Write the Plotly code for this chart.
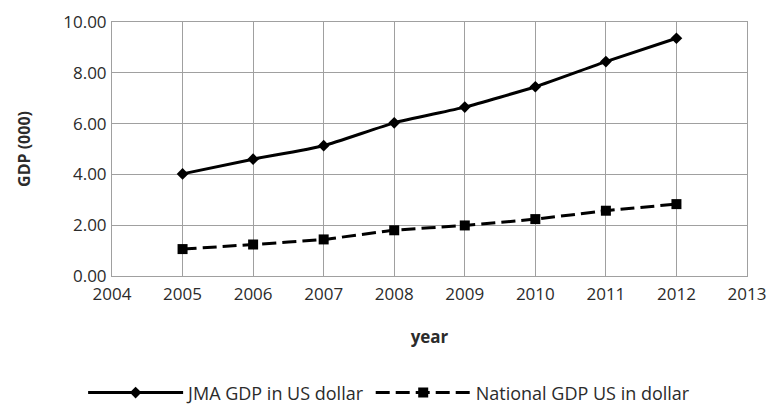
import plotly.graph_objects as go

years = [2005, 2006, 2007, 2008, 2009, 2010, 2011, 2012]
jma_gdp = [4.02, 4.60, 5.13, 6.03, 6.65, 7.45, 8.44, 9.36]
national_gdp = [1.06, 1.24, 1.44, 1.80, 1.99, 2.24, 2.57, 2.83]

x_ticks = list(range(2004, 2014))
y_ticks = [0, 2, 4, 6, 8, 10]

font_family = "Open Sans, DejaVu Sans, sans-serif"
text_color = "#2b2b2b"

fig = go.Figure()
fig.add_trace(go.Scatter(
    x=years, y=jma_gdp, name="JMA GDP in US dollar",
    mode="lines+markers",
    line=dict(color="black", width=3, shape="spline", smoothing=0.5),
    marker=dict(symbol="diamond", size=9, color="black"),
))
fig.add_trace(go.Scatter(
    x=years, y=national_gdp, name="National GDP US in dollar",
    mode="lines+markers",
    line=dict(color="black", width=3, dash="14px,6px", shape="spline", smoothing=0.5),
    marker=dict(symbol="square", size=10, color="black"),
))

axis_common = dict(
    showgrid=True, gridcolor="#a0a0a0", gridwidth=1,
    showline=True, linecolor="#a0a0a0", linewidth=1,
    ticks="", zeroline=False, automargin=False, mirror=True,
)

fig.update_xaxes(
    range=[2004, 2013], tickvals=x_ticks, ticktext=[str(t) for t in x_ticks],
    tickfont=dict(family=font_family, size=17, color=text_color),
    ticklabelstandoff=3,
    title=dict(text="<b>year</b>", font=dict(family=font_family, size=17, color=text_color), standoff=26),
    **axis_common,
)
fig.update_yaxes(
    range=[0, 10], tickvals=y_ticks, ticktext=[f"{v:.2f}" for v in y_ticks],
    tickfont=dict(family=font_family, size=17, color=text_color),
    ticklabelstandoff=1,
    title=dict(text="<b>GDP (000)</b>", font=dict(family=font_family, size=16, color=text_color), standoff=28),
    **axis_common,
)

fig.update_layout(
    width=769, height=405,
    margin=dict(l=112, r=22, t=22, b=129),
    plot_bgcolor="white", paper_bgcolor="white",
    showlegend=True,
    legend=dict(
        orientation="h", xref="container", x=0.506, xanchor="center",
        yref="container", y=0.03, yanchor="middle",
        font=dict(family=font_family, size=18, color=text_color),
        itemwidth=95, tracegroupgap=0,
    ),
)

fig.write_html("out.html")
